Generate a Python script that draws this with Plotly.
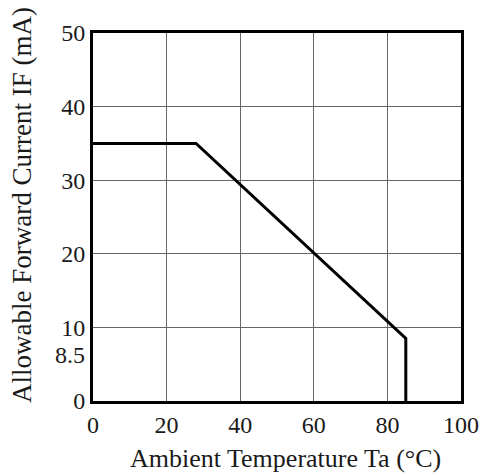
import plotly.graph_objects as go

# Data
temp_c = [0, 28, 85, 85]
current_ma = [35, 35, 8.5, 0]
x_ticks = [0, 20, 40, 60, 80, 100]
y_ticks = [0, 10, 20, 30, 40, 50]
y_extra_tick = 8.5
x_title = "Ambient Temperature Ta (°C)"
y_title = "Allowable Forward Current IF (mA)"

FONT = "Liberation Serif"
TICK = 24
COLOR = "#1a1a1a"

fig = go.Figure()
fig.add_trace(go.Scatter(x=temp_c, y=current_ma, mode="lines",
                         line=dict(color="black", width=3), showlegend=False,
                         hoverinfo="skip"))

fig.add_annotation(x=0, xref="paper", y=y_extra_tick, yref="y",
                   text=str(y_extra_tick), showarrow=False,
                   xanchor="right", yanchor="middle", xshift=-6, yshift=-17,
                   font=dict(family=FONT, size=TICK, color=COLOR))

# axis titles
fig.add_annotation(x=0.5, xref="paper", y=0, yref="paper", text=x_title,
                   showarrow=False, xanchor="center", yanchor="middle",
                   xshift=8, yshift=-57, font=dict(family=FONT, size=26, color=COLOR))
fig.add_annotation(x=0, xref="paper", y=0.5, yref="paper", text=y_title,
                   textangle=-90, showarrow=False, xanchor="center", yanchor="middle",
                   xshift=-71, yshift=12, font=dict(family=FONT, size=27, color=COLOR))

fig.update_layout(
    width=484, height=473,
    margin=dict(l=93, r=23, t=33, b=72),
    paper_bgcolor="white", plot_bgcolor="white",
    font=dict(family=FONT, size=TICK, color=COLOR),
    xaxis=dict(range=[0, 100], tickvals=x_ticks, showgrid=True, automargin=False,
               gridcolor="#666", gridwidth=1, showline=True, linecolor="black",
               linewidth=3, mirror=True, ticks="", zeroline=False,
               tickfont=dict(size=TICK)),
    yaxis=dict(range=[0, 50], tickvals=y_ticks, showgrid=True, automargin=False,
               gridcolor="#666", gridwidth=1, showline=True, linecolor="black",
               linewidth=3, mirror=True, ticks="", zeroline=False,
               tickfont=dict(size=TICK)),
)

fig.write_html("out.html", config={"displayModeBar": False},
               post_script="document.body.style.margin='0';document.body.style.overflow='hidden';")
